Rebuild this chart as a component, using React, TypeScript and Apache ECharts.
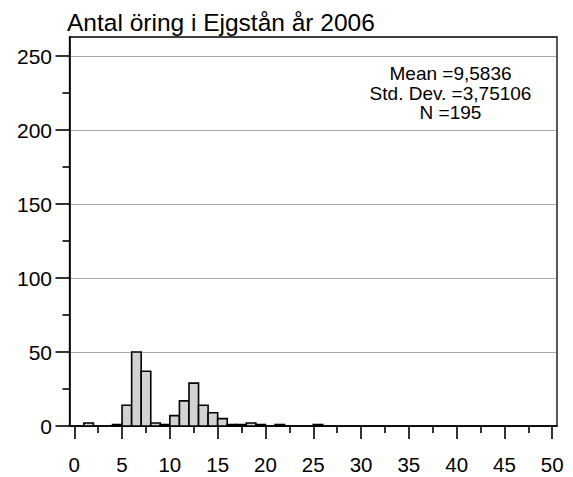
import React, { useEffect, useRef } from "react";
import * as echarts from "echarts";

const binStarts = [1, 4, 5, 6, 7, 8, 9, 10, 11, 12, 13, 14, 15, 16, 17, 18, 19, 21, 25];
const counts = [2, 1, 14, 50, 37, 2, 1, 7, 17, 29, 14, 9, 5, 1, 1, 2, 1, 1, 1];
const xMajorTicks = [0, 5, 10, 15, 20, 25, 30, 35, 40, 45, 50];
const xMinorTicks = [2.5, 7.5, 12.5, 17.5, 22.5, 27.5, 32.5, 37.5, 42.5, 47.5];
const yMajorTicks = [0, 50, 100, 150, 200, 250];
const yMinorTicks = [25, 75, 125, 175, 225];
const gridValues = [50, 100, 150, 200, 250];
const titleText = "Antal öring i Ejgstån år 2006";
const statsLines = ["Mean =9,5836", "Std. Dev. =3,75106", "N =195"];

const FONT = "'Liberation Sans', Arial, sans-serif";

export default function App() {
  const ref = useRef<HTMLDivElement>(null);
  useEffect(() => {
    if (!ref.current) return;
    const chart = echarts.init(ref.current, undefined, { renderer: "svg" });
    const data = binStarts.map((b, i) => [b, counts[i]]);
    const xMin = -0.5;
    const xMax = 50.5;
    const yMax = 263;
    chart.setOption({
      animation: false,
      backgroundColor: "#fff",
      title: {
        text: titleText,
        left: 62,
        top: 5,
        textStyle: { fontFamily: FONT, fontSize: 24.5, fontWeight: "normal", color: "#000" },
      },
      grid: {
        left: 69.5,
        top: 37,
        right: 16,
        bottom: 51,
        show: true,
        borderColor: "#000",
        borderWidth: 1.3,
        backgroundColor: "transparent",
      },
      xAxis: [
        {
          type: "value",
          min: xMin,
          max: xMax,
          position: "bottom",
          axisLine: { show: true, onZero: false, lineStyle: { color: "#000", width: 1.6 } },
          axisTick: { show: true, length: 13, customValues: xMajorTicks, lineStyle: { color: "#000", width: 1.6 } },
          axisLabel: {
            show: true,
            customValues: xMajorTicks,
            margin: 28,
            fontFamily: FONT,
            fontSize: 20.5,
            color: "#000",
          },
          splitLine: { show: false },
        },
        {
          type: "value",
          min: xMin,
          max: xMax,
          position: "bottom",
          axisLine: { show: false, onZero: false },
          axisTick: { show: true, length: 7, customValues: xMinorTicks, lineStyle: { color: "#000", width: 1.6 } },
          axisLabel: { show: false },
          splitLine: { show: false },
        },
      ],
      yAxis: [
        {
          type: "value",
          min: 0,
          max: yMax,
          position: "left",
          axisLine: { show: true, onZero: false, lineStyle: { color: "#000", width: 1.6 } },
          axisTick: { show: true, length: 14, customValues: yMajorTicks, lineStyle: { color: "#000", width: 1.6 } },
          axisLabel: {
            show: true,
            customValues: yMajorTicks,
            margin: 17.5,
            padding: [9, 0, 0, 0],
            fontFamily: FONT,
            fontSize: 21,
            color: "#000",
          },
          splitLine: { show: false },
        },
        {
          type: "value",
          min: 0,
          max: yMax,
          position: "left",
          axisLine: { show: false, onZero: false },
          axisTick: { show: true, length: 7, customValues: yMinorTicks, lineStyle: { color: "#000", width: 1.6 } },
          axisLabel: { show: false },
          splitLine: { show: false },
        },
      ],
      graphic: [
        {
          type: "text",
          x: 450.5,
          y: 64,
          style: {
            text: statsLines.join("\n"),
            fontFamily: FONT,
            fontSize: 19,
            lineHeight: 19.5,
            fill: "#000",
            align: "center",
            verticalAlign: "top",
          },
        },
      ],
      series: [
        {
          type: "custom",
          xAxisIndex: 0,
          yAxisIndex: 0,
          data,
          renderItem: (params: any, api: any) => {
            const start = api.value(0);
            const c = api.value(1);
            const p0 = api.coord([start, c]);
            const p1 = api.coord([start + 1, 0]);
            return {
              type: "rect",
              shape: { x: p0[0], y: p0[1], width: p1[0] - p0[0], height: p1[1] - p0[1] },
              style: { fill: "#d2d2d2", stroke: "#000", lineWidth: 1.6 },
            };
          },
          markLine: {
            silent: true,
            symbol: "none",
            label: { show: false },
            lineStyle: { color: "#555", type: "dotted", width: 1 },
            emphasis: { disabled: true },
            data: gridValues.map((v) => ({ yAxis: v })),
            z: 0,
          },
          z: 3,
        },
      ],
    });
    return () => chart.dispose();
  }, []);
  return (
    <div
      ref={ref}
      style={{ position: "fixed", left: 0, top: 0, width: 573, height: 477 }}
    />
  );
}
